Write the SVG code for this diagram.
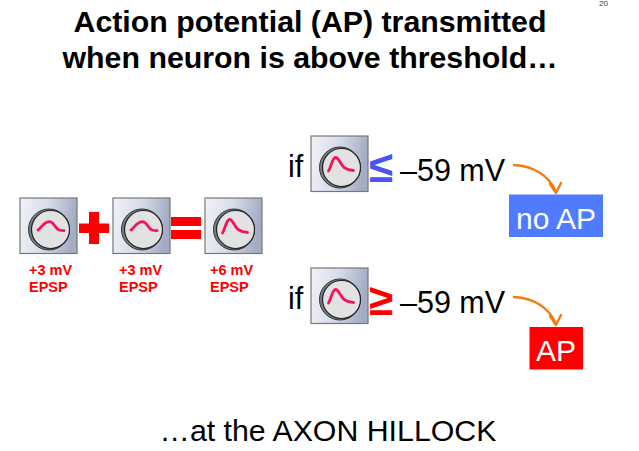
<svg xmlns="http://www.w3.org/2000/svg" width="639" height="451" viewBox="0 0 639 451">
<style>
text{font-family:"Liberation Sans",Arial,sans-serif}
.title{font-size:30.300px;font-weight:bold;fill:#000;text-anchor:middle}
.big{font-size:30.500px;fill:#000}
.lab{font-size:14.500px;font-weight:bold;fill:#f00}
.sym{font-size:44px;font-weight:bold}
.conn{fill:none;stroke:#f47b10;stroke-width:2.4;stroke-linecap:round;stroke-linejoin:round}
.frame{fill:url(#panel);stroke:#777;stroke-width:1.2}
.dial{fill:#e2e2e2;stroke:#222;stroke-width:1.2}
.rim{fill:#6f8088;stroke:#333;stroke-width:1}
.wave{fill:none;stroke:#f5145f;stroke-width:2.800;stroke-linecap:round;stroke-linejoin:round}
</style>
<defs>
<linearGradient id="panel" x1="0" y1="0" x2="1" y2="0.15">
<stop offset="0" stop-color="#f2f3f8"/><stop offset="0.5" stop-color="#d8dce8"/><stop offset="1" stop-color="#a3acc4"/>
</linearGradient>
<g id="scope">
<rect class="frame" x="0" y="0" width="57" height="55.500"/>
<circle class="rim" cx="29" cy="31.500" r="20.500"/>
<circle class="dial" cx="30.500" cy="31.500" r="19"/>
</g>
<path id="low" class="wave" d="M18 32C21 30 24 23.700 29.500 23.700C34 23.700 35 30.500 39 32C41 32.700 43 32.700 44 32.700"/>
<path id="high" class="wave" d="M17.500 35C20 31 21.500 21.500 24.500 21.500C28 21.500 29 28 33 31.500C36 33.500 39 34.300 42.500 34.500"/>
</defs>
<g id="title">
<text class="title" x="310" y="32">Action potential (AP) transmitted</text>
<text class="title" x="310" y="68">when neuron is above threshold…</text>
<text x="599" y="6" font-size="8" fill="#333">20</text>
</g>
<g id="epsp1"><use href="#scope" x="20" y="198"/><use href="#low" x="20" y="198"/>
<text class="lab"><tspan x="29" y="275">+3 mV</tspan><tspan x="29" y="292">EPSP</tspan></text></g>
<g id="plus"><path fill="#f00" d="M89 212H99V223.500H109V233H99V244H89V233H79V223.500H89Z"/></g>
<g id="epsp2"><use href="#scope" x="113" y="198"/><use href="#low" x="113" y="198"/>
<text class="lab"><tspan x="119" y="275">+3 mV</tspan><tspan x="119" y="292">EPSP</tspan></text></g>
<g id="equals"><rect x="171" y="217" width="30" height="9" fill="#f00"/><rect x="171" y="230" width="30" height="9" fill="#f00"/></g>
<g id="epsp3"><use href="#scope" x="205" y="198"/><use href="#high" x="205" y="198"/>
<text class="lab"><tspan x="210" y="275">+6 mV</tspan><tspan x="210" y="292">EPSP</tspan></text></g>
<g id="cond-low">
<text class="big" x="288" y="177">if</text>
<use href="#scope" x="311" y="136"/><use href="#high" x="311" y="136"/>
<text class="sym" x="369" y="182" fill="#4a54f5">≤</text>
<text class="big" x="400" y="181">–59 mV</text>
</g>
<g id="no-ap"><rect x="509" y="194.500" width="94" height="42.500" fill="#4f7bff"/><text x="556" y="229" font-size="30" fill="#fff" text-anchor="middle">no AP</text></g>
<g id="cond-high">
<text class="big" x="288" y="309">if</text>
<use href="#scope" x="311" y="268"/><use href="#high" x="311" y="268"/>
<text class="sym" x="369" y="315" fill="#f00">≥</text>
<text class="big" x="400" y="313">–59 mV</text>
</g>
<g id="ap"><rect x="529.500" y="327" width="53.500" height="42.500" fill="#f00"/><text x="556" y="361" font-size="30" fill="#fff" text-anchor="middle">AP</text></g>
<g id="footer"><text x="328" y="441" font-size="30.300" fill="#000" text-anchor="middle">…at the AXON HILLOCK</text></g>
<g id="connectors">
<path class="conn" d="M514 165C533 166 549 175 556 192"/><path class="conn" d="M550 184L556 193L561 183"/>
<path class="conn" d="M514 297C533 298 549 307 556 324"/><path class="conn" d="M550 316L556 325L561 315"/>
</g>
</svg>
